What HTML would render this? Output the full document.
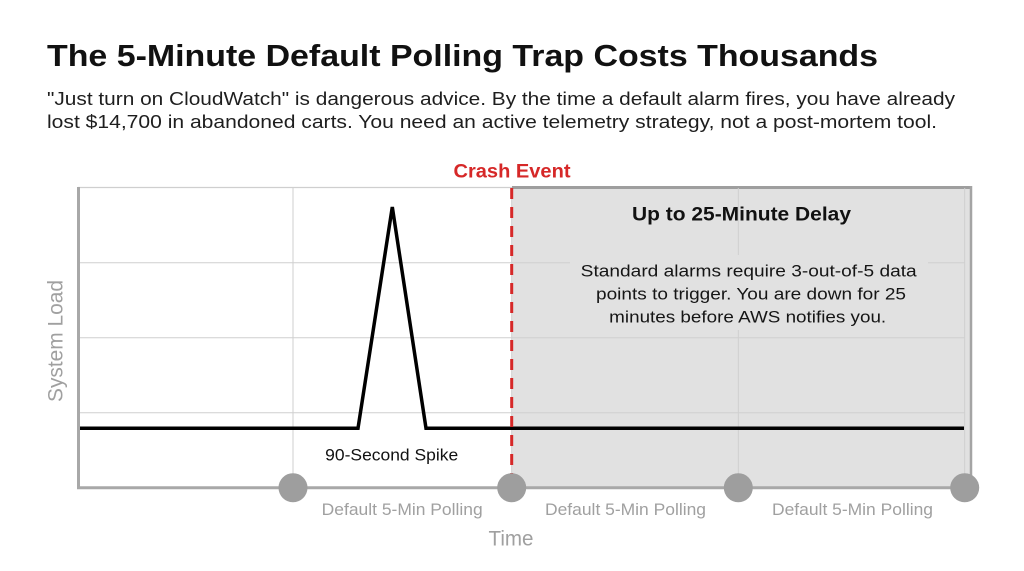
<!DOCTYPE html>
<html>
<head>
<meta charset="utf-8">
<style>
  html, body { margin:0; padding:0; background:#ffffff; }
  body { width:1024px; height:571px; overflow:hidden; }
  svg { display:block; }
  text { font-family: "Liberation Sans", "DejaVu Sans", sans-serif; }
</style>
</head>
<body>
<svg width="1024" height="571" viewBox="0 0 1024 571" xmlns="http://www.w3.org/2000/svg">
  <rect x="0" y="0" width="1024" height="571" fill="#ffffff"/>

  <!-- Title -->
  <text x="47" y="66" font-size="31" font-weight="bold" fill="#111111" textLength="831" lengthAdjust="spacingAndGlyphs">The 5-Minute Default Polling Trap Costs Thousands</text>

  <!-- Subtitle -->
  <text x="47" y="105" font-size="18.5" fill="#1e1e1e" textLength="908" lengthAdjust="spacingAndGlyphs">"Just turn on CloudWatch" is dangerous advice. By the time a default alarm fires, you have already</text>
  <text x="47" y="128" font-size="18.5" fill="#1e1e1e" textLength="890" lengthAdjust="spacingAndGlyphs">lost $14,700 in abandoned carts. You need an active telemetry strategy, not a post-mortem tool.</text>

  <!-- Crash Event label -->
  <text x="512" y="177.5" font-size="19.5" font-weight="bold" fill="#d62828" text-anchor="middle" textLength="117" lengthAdjust="spacingAndGlyphs">Crash Event</text>

  <!-- White plot top border -->
  <line x1="78" y1="187.5" x2="512" y2="187.5" stroke="#cfcfcf" stroke-width="1.2"/>

  <!-- Shaded region -->
  <rect x="512" y="187.5" width="459" height="300" fill="#e1e1e1"/>
  <line x1="512" y1="187.5" x2="971" y2="187.5" stroke="#9e9e9e" stroke-width="3"/>
  <line x1="971" y1="186" x2="971" y2="488" stroke="#a4a4a4" stroke-width="2.5"/>

  <!-- Grid lines -->
  <g stroke="#cfcfcf" stroke-width="1">
    <line x1="78" y1="262.7" x2="965" y2="262.7"/>
    <line x1="78" y1="337.7" x2="965" y2="337.7"/>
    <line x1="78" y1="412.7" x2="965" y2="412.7"/>
    <line x1="293" y1="188" x2="293" y2="488"/>
    <line x1="511.7" y1="188" x2="511.7" y2="488"/>
    <line x1="738.3" y1="188" x2="738.3" y2="488"/>
    <line x1="964.7" y1="188" x2="964.7" y2="488"/>
  </g>

  <!-- Text box background in shaded area -->
  <rect x="570" y="255" width="358" height="75" fill="#e1e1e1"/>

  <!-- Axes -->
  <line x1="78.5" y1="187" x2="78.5" y2="489" stroke="#a8a8a8" stroke-width="3"/>
  <line x1="77" y1="487.7" x2="971" y2="487.7" stroke="#a8a8a8" stroke-width="3"/>

  <!-- Series line -->
  <polyline points="80,428.3 358,428.3 392.3,207 426,428.3 964,428.3" fill="none" stroke="#000000" stroke-width="3.5" stroke-linejoin="miter" stroke-miterlimit="3"/>

  <!-- Crash dashed line -->
  <line x1="511.7" y1="188" x2="511.7" y2="480" stroke="#d62828" stroke-width="3" stroke-dasharray="11 8"/>

  <!-- Polling dots -->
  <g fill="#9e9e9e">
    <circle cx="293" cy="487.7" r="14.5"/>
    <circle cx="511.7" cy="487.7" r="14.5"/>
    <circle cx="738.3" cy="487.7" r="14.5"/>
    <circle cx="964.7" cy="487.7" r="14.5"/>
  </g>

  <!-- Annotations -->
  <text x="741.5" y="220.7" font-size="19" font-weight="bold" fill="#111111" text-anchor="middle" textLength="219" lengthAdjust="spacingAndGlyphs">Up to 25-Minute Delay</text>
  <text x="748.7" y="276.7" font-size="17" fill="#151515" text-anchor="middle" textLength="336" lengthAdjust="spacingAndGlyphs">Standard alarms require 3-out-of-5 data</text>
  <text x="751" y="299.4" font-size="17" fill="#151515" text-anchor="middle" textLength="310" lengthAdjust="spacingAndGlyphs">points to trigger. You are down for 25</text>
  <text x="747.7" y="322.3" font-size="17" fill="#151515" text-anchor="middle" textLength="277" lengthAdjust="spacingAndGlyphs">minutes before AWS notifies you.</text>

  <text x="391.7" y="460.7" font-size="17" fill="#111111" text-anchor="middle" textLength="133" lengthAdjust="spacingAndGlyphs">90-Second Spike</text>

  <!-- X labels -->
  <g font-size="17" fill="#a0a0a0" text-anchor="middle">
    <text x="402.2" y="515" textLength="161" lengthAdjust="spacingAndGlyphs">Default 5-Min Polling</text>
    <text x="625.5" y="515" textLength="161" lengthAdjust="spacingAndGlyphs">Default 5-Min Polling</text>
    <text x="852.5" y="515" textLength="161" lengthAdjust="spacingAndGlyphs">Default 5-Min Polling</text>
  </g>

  <!-- Axis titles -->
  <text x="511" y="545.7" font-size="21" fill="#a0a0a0" text-anchor="middle" textLength="45" lengthAdjust="spacingAndGlyphs">Time</text>
  <text transform="translate(62.5,341) rotate(-90)" x="0" y="0" font-size="21" fill="#a0a0a0" text-anchor="middle" textLength="122" lengthAdjust="spacingAndGlyphs">System Load</text>
</svg>
</body>
</html>
